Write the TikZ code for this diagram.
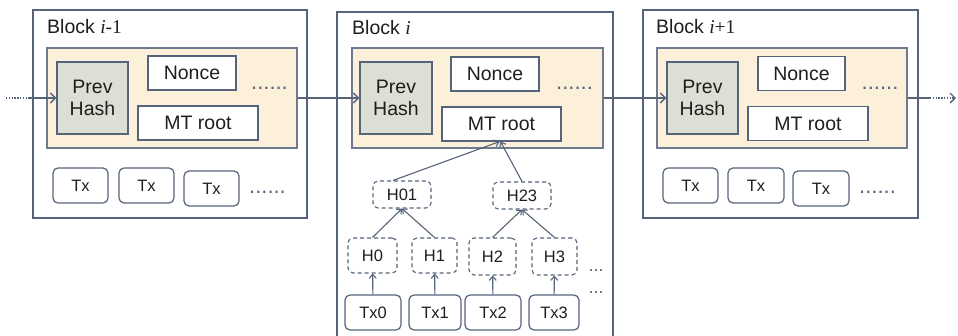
\documentclass[tikz,border=0pt]{standalone}
\usepackage{fontspec}
\setmainfont{Liberation Sans}
\newfontfamily\tms{Liberation Serif}
\usetikzlibrary{arrows.meta}
\definecolor{edge}{HTML}{55647A}
\definecolor{hdrfill}{HTML}{FDF0DA}
\definecolor{prevfill}{HTML}{DCDFD4}
\definecolor{ink}{HTML}{1E1E1E}
\tikzset{
  blockbox/.style={draw=edge, line width=1.3pt, fill=white, inner sep=0pt},
  hdrbox/.style={draw=edge!85, line width=1.2pt, fill=hdrfill, inner sep=0pt},
  prevbox/.style={draw=edge, line width=1.2pt, fill=prevfill, inner sep=0pt, align=center,
    font=\fontsize{19.5}{22.5}\selectfont, text=ink},
  fieldbox/.style={draw=edge, line width=1.2pt, fill=white, inner sep=0pt,
    font=\fontsize{19.5}{22}\selectfont, text=ink},
  txbox/.style={draw=edge, line width=1.2pt, fill=white, rounded corners=5pt, inner sep=0pt,
    font=\fontsize{16.5}{19}\selectfont, text=ink},
  hashbox/.style={draw=edge, line width=1.1pt, dash pattern=on 4pt off 3pt, fill=white,
    rounded corners=5pt, inner sep=0pt, font=\fontsize{16.5}{19}\selectfont, text=ink},
  title/.style={anchor=west, inner sep=0pt, font=\fontsize{19.5}{22}\selectfont, text=ink},
  dots/.style={inner sep=0pt, text=edge, font=\fontsize{22}{24}\selectfont},
  shortdots/.style={inner sep=0pt, text=edge, font=\fontsize{18}{20}\selectfont},
  link/.style={draw=edge, line width=1.4pt, -{Straight Barb[length=5pt,width=10pt,line width=1.4pt]}},
  treelink/.style={draw=edge, line width=1.1pt, -{Straight Barb[length=4pt,width=7pt,line width=1.1pt]}},
  dotline/.style={draw=edge, line width=1.4pt, dash pattern=on 1.4pt off 1.4pt},
  plain/.style={draw=edge, line width=1.4pt}
}
\begin{document}
\begin{tikzpicture}[x=1pt,y=-1pt]
\useasboundingbox (0,0) rectangle (958,335);

% ---------- Block i-1 ----------
\node[blockbox, minimum width=274pt, minimum height=208pt] (outerA) at (170,114) {};
\node[title] (titleA) at (47,27) {Block {\tms\itshape i}{\tms -1}};
\node[hdrbox, minimum width=250pt, minimum height=100pt] (hdrA) at (172,98) {};
\node[prevbox, minimum width=71pt, minimum height=72pt] (prevA) at (92.5,98) {Prev\\Hash};
\node[fieldbox, minimum width=88pt, minimum height=34pt] (nonceA) at (192,73) {Nonce};
\node[fieldbox, minimum width=120pt, minimum height=34pt] (mtA) at (198,123) {MT root};
\node[dots] (dotsA) at (269.5,88) {......};
\node[txbox, minimum width=55pt, minimum height=35pt] (txA1) at (80.5,185.5) {Tx};
\node[txbox, minimum width=55pt, minimum height=35pt] (txA2) at (146.5,185.5) {Tx};
\node[txbox, minimum width=55pt, minimum height=35pt] (txA3) at (211.5,188.5) {Tx};
\node[dots] (dotsA2) at (267.5,192) {......};

% ---------- Block i ----------
\node[blockbox, minimum width=276pt, minimum height=333pt] (outerB) at (475,178.5) {};
\node[title] (titleB) at (352,28) {Block {\tms\itshape i}};
\node[hdrbox, minimum width=251pt, minimum height=100pt] (hdrB) at (477.5,98) {};
\node[prevbox, minimum width=72pt, minimum height=72pt] (prevB) at (396,98) {Prev\\Hash};
\node[fieldbox, minimum width=88pt, minimum height=34pt] (nonceB) at (495,74) {Nonce};
\node[fieldbox, minimum width=119pt, minimum height=34pt] (mtB) at (501.5,124) {MT root};
\node[dots] (dotsB) at (574.5,88) {......};

% Merkle tree
\node[hashbox, minimum width=58pt, minimum height=27pt] (h01) at (402,194.5) {H01};
\node[hashbox, minimum width=58pt, minimum height=27pt] (h23) at (522,195.5) {H23};
\node[hashbox, minimum width=49pt, minimum height=35pt] (h0) at (372.5,255.5) {H0};
\node[hashbox, minimum width=45pt, minimum height=35pt] (h1) at (434.5,255.5) {H1};
\node[hashbox, minimum width=47pt, minimum height=37pt] (h2) at (492.5,256.5) {H2};
\node[hashbox, minimum width=45pt, minimum height=37pt] (h3) at (554.5,256.5) {H3};
\node[txbox, minimum width=56pt, minimum height=35pt] (tx0) at (373,312.5) {Tx0};
\node[txbox, minimum width=52pt, minimum height=35pt] (tx1) at (435,312.5) {Tx1};
\node[txbox, minimum width=56pt, minimum height=35pt] (tx2) at (493,312.5) {Tx2};
\node[txbox, minimum width=50pt, minimum height=35pt] (tx3) at (554,312.5) {Tx3};
\node[shortdots] (dotsB2) at (596,271) {...};
\node[shortdots] (dotsB3) at (596,293) {...};

\draw[treelink] (tx0) -- (h0);
\draw[treelink] (tx1) -- (h1);
\draw[treelink] (tx2) -- (h2);
\draw[treelink] (tx3) -- (h3);
\draw[treelink] (h0.north) -- (h01.south);
\draw[treelink] (h1.north) -- (h01.south);
\draw[treelink] (h2.north) -- (h23.south);
\draw[treelink] (h3.north) -- (h23.south);
\draw[treelink] ([xshift=-9pt]h01.north) -- ([xshift=-2pt]mtB.south);
\draw[treelink] (h23.north) -- ([xshift=-1pt]mtB.south);

% ---------- Block i+1 ----------
\node[blockbox, minimum width=275pt, minimum height=208pt] (outerC) at (780.5,114) {};
\node[title] (titleC) at (656,27) {Block {\tms\itshape i}{\tms +1}};
\node[hdrbox, minimum width=250pt, minimum height=100pt] (hdrC) at (782,98) {};
\node[prevbox, minimum width=71pt, minimum height=72pt] (prevC) at (702.5,98) {Prev\\Hash};
\node[fieldbox, minimum width=87pt, minimum height=34pt] (nonceC) at (801.5,73.5) {Nonce};
\node[fieldbox, minimum width=120pt, minimum height=34pt] (mtC) at (808,123.5) {MT root};
\node[dots] (dotsC) at (880,88) {......};
\node[txbox, minimum width=55pt, minimum height=35pt] (txC1) at (690.5,185.5) {Tx};
\node[txbox, minimum width=56pt, minimum height=35pt] (txC2) at (756,185.5) {Tx};
\node[txbox, minimum width=56pt, minimum height=35pt] (txC3) at (821,188.5) {Tx};
\node[dots] (dotsC2) at (877.5,192) {......};

% ---------- chain links ----------
\coordinate (inS) at (6,98);
\coordinate (inM) at (28,98);
\draw[dotline] (inS) -- (inM);
\draw[link] (inM) -- (prevA.west);
\draw[link] (hdrA.east) -- (prevB.west);
\draw[link] (hdrB.east) -- (prevC.west);
\coordinate (outM) at (930,98);
\coordinate (outE) at (955,98);
\draw[plain] (hdrC.east) -- (outM);
\draw[dotline] (outM) -- (outE);
\draw[edge, line width=1.4pt] (950,93) -- (955,98) -- (950,103);
\end{tikzpicture}
\end{document}
